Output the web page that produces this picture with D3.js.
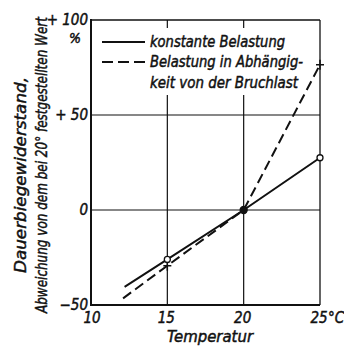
<!DOCTYPE html>
<html>
<head>
<meta charset="utf-8">
<script src="https://cdn.jsdelivr.net/npm/d3@7"></script>
<style>
  body { margin: 0; background: #fff; }
  text { font-family: 'DejaVu Sans Condensed', 'Liberation Sans Narrow', sans-serif; font-style: italic; fill: #111; stroke: #111; stroke-width: 0.45px; }
</style>
</head>
<body>
<div id="chart"></div>
<script>
// data
const tempsConst = [12.2, 15, 20, 25]
const valuesConst = [-40.5, -26, 0, 27.5]
const tempsBruch = [12.1, 15, 20, 25]
const valuesBruch = [-46.5, -29.3, 0, 76.5]
const xTicks = [10, 15, 20, 25]
const yTicks = [-50, 0, 50, 100]
const yTickLabels = ['\u221250', '0', '+ 50', '+ 100']

const width = 344
const height = 350

const svg = d3.select('#chart').append('svg')
  .attr('width', width)
  .attr('height', height)

const xScale = d3.scaleLinear().domain([10, 25]).range([91, 320])
const yScale = d3.scaleLinear().domain([-50, 100]).range([305, 20])

// grid lines
svg.append('g')
  .selectAll('line')
  .data(xTicks.slice(1, 3))
  .join('line')
  .attr('x1', d => xScale(d)).attr('x2', d => xScale(d))
  .attr('y1', yScale(100)).attr('y2', yScale(-50))
  .attr('stroke', '#111').attr('stroke-width', 1.2)

svg.append('g')
  .selectAll('line')
  .data([0, 50])
  .join('line')
  .attr('x1', xScale(10)).attr('x2', xScale(25))
  .attr('y1', d => yScale(d)).attr('y2', d => yScale(d))
  .attr('stroke', '#111').attr('stroke-width', 1.2)

// white area behind the legend
svg.append('rect')
  .attr('x', 94).attr('y', 28)
  .attr('width', 204).attr('height', 67)
  .attr('fill', '#fff')

// frame
svg.append('line')
  .attr('x1', xScale(10)).attr('x2', xScale(25))
  .attr('y1', yScale(100)).attr('y2', yScale(100))
  .attr('stroke', '#111').attr('stroke-width', 1.3)
svg.append('line')
  .attr('x1', xScale(25)).attr('x2', xScale(25))
  .attr('y1', yScale(100)).attr('y2', yScale(-50))
  .attr('stroke', '#111').attr('stroke-width', 1.3)
svg.append('line')
  .attr('x1', xScale(10)).attr('x2', xScale(25))
  .attr('y1', yScale(-50)).attr('y2', yScale(-50))
  .attr('stroke', '#111').attr('stroke-width', 2)
svg.append('line')
  .attr('x1', xScale(10)).attr('x2', xScale(10))
  .attr('y1', yScale(100) - 1).attr('y2', yScale(-50) + 1)
  .attr('stroke', '#111').attr('stroke-width', 2)

// data lines
const line = d3.line()
  .x(d => xScale(d[0]))
  .y(d => yScale(d[1]))

svg.append('path')
  .datum(d3.zip(tempsConst, valuesConst))
  .attr('d', line)
  .attr('fill', 'none')
  .attr('stroke', '#111')
  .attr('stroke-width', 2)

svg.append('path')
  .datum(d3.zip(tempsBruch, valuesBruch))
  .attr('d', line)
  .attr('fill', 'none')
  .attr('stroke', '#111')
  .attr('stroke-width', 2)
  .attr('stroke-dasharray', '10,5')

// markers: crosses on dashed line
const crossPts = d3.zip(tempsBruch, valuesBruch).filter(d => d[0] === 15 || d[0] === 25)
svg.append('g')
  .selectAll('path')
  .data(crossPts)
  .join('path')
  .attr('d', d => {
    const x = xScale(d[0]), y = yScale(d[1])
    return `M${x - 4},${y}H${x + 4}M${x},${y - 5}V${y + 5}`
  })
  .attr('stroke', '#111').attr('stroke-width', 1.5)

// open circles on solid line, filled at 20
svg.append('g')
  .selectAll('circle')
  .data(d3.zip(tempsConst, valuesConst).filter(d => d[0] !== 12.2))
  .join('circle')
  .attr('cx', d => xScale(d[0]))
  .attr('cy', d => yScale(d[1]))
  .attr('r', d => d[0] === 20 ? 3.5 : 3)
  .attr('fill', d => d[0] === 20 ? '#111' : '#fff')
  .attr('stroke', '#111').attr('stroke-width', 1.3)

// legend
svg.append('line')
  .attr('x1', 102).attr('x2', 145).attr('y1', 42).attr('y2', 42)
  .attr('stroke', '#111').attr('stroke-width', 2)
svg.append('line')
  .attr('x1', 102).attr('x2', 145).attr('y1', 62).attr('y2', 62)
  .attr('stroke', '#111').attr('stroke-width', 2)
  .attr('stroke-dasharray', '11,5')

const legendText = [
  { t: 'konstante Belastung', y: 47, len: 135 },
  { t: 'Belastung in Abhängig-', y: 67, len: 153 },
  { t: 'keit von der Bruchlast', y: 88, len: 148 },
]
svg.append('g')
  .selectAll('text')
  .data(legendText)
  .join('text')
  .attr('x', 150)
  .attr('y', d => d.y)
  .attr('font-size', 15)
  .attr('textLength', d => d.len)
  .attr('lengthAdjust', 'spacingAndGlyphs')
  .text(d => d.t)

// y tick labels
svg.append('g')
  .selectAll('text')
  .data(yTicks)
  .join('text')
  .attr('x', 88)
  .attr('y', d => yScale(d) + 5)
  .attr('text-anchor', 'end')
  .attr('font-size', 15)
  .text((d, i) => yTickLabels[i])

svg.append('text')
  .attr('x', 75).attr('y', 43)
  .attr('text-anchor', 'middle')
  .attr('font-size', 14)
  .text('%')

// x tick labels
svg.append('g')
  .selectAll('text')
  .data(xTicks)
  .join('text')
  .attr('x', d => xScale(d) + (d === 10 ? 1 : -1))
  .attr('y', 323)
  .attr('text-anchor', 'middle')
  .attr('font-size', 15)
  .text(d => d)

svg.append('text')
  .attr('x', xScale(25) + 8).attr('y', 323)
  .attr('font-size', 15)
  .text('°C')

svg.append('text')
  .attr('x', 210).attr('y', 342)
  .attr('text-anchor', 'middle')
  .attr('font-size', 16)
  .attr('textLength', 86)
  .attr('lengthAdjust', 'spacingAndGlyphs')
  .text('Temperatur')

// y axis title (two lines, rotated)
svg.append('text')
  .attr('transform', 'translate(26,175) rotate(-90)')
  .attr('text-anchor', 'middle')
  .attr('font-size', 16)
  .attr('textLength', 196)
  .attr('lengthAdjust', 'spacingAndGlyphs')
  .text('Dauerbiegewiderstand,')

svg.append('text')
  .attr('transform', 'translate(47,165) rotate(-90)')
  .attr('text-anchor', 'middle')
  .attr('font-size', 15)
  .attr('textLength', 296)
  .attr('lengthAdjust', 'spacingAndGlyphs')
  .text('Abweichung von dem bei 20° festgestellten Wert')
</script>
</body>
</html>
